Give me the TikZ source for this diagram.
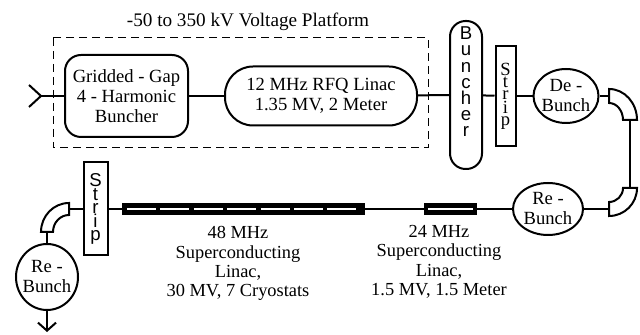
\documentclass[tikz,border=0pt]{standalone}
\usepackage{fontspec}
\setmainfont{Liberation Serif}
\setsansfont{Liberation Sans}
\usetikzlibrary{positioning,arrows.meta,shapes.geometric}
\newcommand{\diagfont}{\fontsize{9.3}{10}\selectfont}
\newcommand{\platfont}{\fontsize{9.6}{11}\selectfont}

\begin{document}
\begin{tikzpicture}[x=0.5pt,y=-0.5pt,
  every node/.style={font=\diagfont},
  box/.style={draw,line width=1pt,align=center,inner sep=0pt},
  ring/.style={draw,ellipse,line width=1pt,align=center,inner sep=-1.5pt},
  linac/.style={fill=black,inner sep=0pt,minimum height=6pt},
  beam/.style={line width=1pt},
  elbow/.style={draw,line width=1pt,fill=white}]
\useasboundingbox (0,0) rectangle (640,335);
% voltage platform
\draw[dash pattern=on 4pt off 2.5pt,line width=0.5pt] (53,38) rectangle (428,148);
\node[font=\platfont] (plat) at (248,22) {-50 to 350 kV Voltage Platform};
% top row
\node[box,rounded corners=8pt,minimum width=61.5pt,minimum height=41pt] (grid) at (126.5,96) {Gridded - Gap\\4 - Harmonic\\Buncher};
\node[box,rounded corners=14pt,minimum width=96pt,minimum height=29.5pt] (rfq) at (321,96) {12 MHz RFQ Linac\\1.35 MV, 2 Meter};
\node[box,rounded corners=7.8pt,minimum width=16pt,minimum height=74pt] (bun) at (466,95) {};
\node[align=center,inner sep=0pt,font={\sffamily\fontsize{9.3}{8.1}\selectfont}] (buntxt) at (466,82) {B\\u\\n\\c\\h\\e\\r};
\node[box,minimum width=10pt,minimum height=50pt,font={\fontsize{9.3}{6}\selectfont}] (strip1) at (505.5,96) {S\\t\\r\\i\\p};
\node[ring,minimum width=32.5pt,minimum height=27pt] (deb) at (566,96) {De -\\Bunch};
% bottom row
\node[ring,minimum width=35pt,minimum height=26pt] (reb1) at (548,209) {Re -\\Bunch};
\node[linac,minimum width=26.5pt] (lin24) at (450.5,209) {};
\node[linac,minimum width=121.5pt] (lin48) at (243.5,209) {};
\node[box,minimum width=12pt,minimum height=46.5pt,font={\sffamily\fontsize{9.3}{6.75}\selectfont}] (strip2) at (95.5,209) {S\\t\\r\\i\\p};
\node[ring,minimum width=31pt,minimum height=33pt] (reb2) at (47,277) {Re -\\Bunch};
% cryostats
\foreach \i in {0,...,6}
  \draw[white,line width=1pt] ({127+\i*33.4},209) -- ++(29,0);
\draw[white,line width=1pt] (428,209) -- (473,209);
% linac labels
\node[align=center,anchor=north,inner sep=0pt,font={\fontsize{9.2}{9.7}\selectfont}] (txt48) at (238,226) {48 MHz\\Superconducting\\Linac,\\30 MV, 7 Cryostats};
\node[align=center,anchor=north,inner sep=0pt,font={\fontsize{9.2}{9.7}\selectfont}] (txt24) at (439,225) {24 MHz\\Superconducting\\Linac,\\1.5 MV, 1.5 Meter};
% bends
\draw[elbow] (609,89) .. controls (624.5,89) and (637,102.9) .. (637,120) -- (623,120) .. controls (623,110.6) and (616.7,103) .. (609,103) -- cycle;
\draw[elbow] (623,188) -- (637,188) .. controls (637,203.5) and (624.5,216) .. (609,216) -- (609,202) .. controls (616.7,202) and (623,195.7) .. (623,188) -- cycle;
\draw[elbow] (69,203) .. controls (53.5,203) and (41,216) .. (41,232) -- (53,232) .. controls (53,222.6) and (60.2,215) .. (69,215) -- cycle;
\coordinate (in) at (28,96);
\coordinate (b1w) at (609,96);
\coordinate (b1s) at (630,120);
\coordinate (b2n) at (630,188);
\coordinate (b2w) at (609,209);
\coordinate (b3e) at (69,209);
\coordinate (b3s) at (47,232);
\coordinate (out) at (47,332);
% beam line
\draw[beam,{Straight Barb[reversed,length=6pt,width=11pt]}-] (in) -- (grid);
\draw[beam] (grid) -- (rfq);
\draw[beam] (rfq) -- (bun);
\draw[beam] (bun) -- (strip1);
\draw[beam] (strip1) -- (deb);
\draw[beam] (deb) -- (b1w);
\draw[beam] (b1s) -- (b2n);
\draw[beam] (b2w) -- (reb1);
\draw[beam] (reb1) -- (lin24);
\draw[beam] (lin24) -- (lin48);
\draw[beam] (lin48) -- (strip2);
\draw[beam] (strip2) -- (b3e);
\draw[beam] (b3s) -- (reb2);
\draw[beam,-{Straight Barb[length=4pt,width=9pt]}] (reb2) -- (out);
\end{tikzpicture}
\end{document}
